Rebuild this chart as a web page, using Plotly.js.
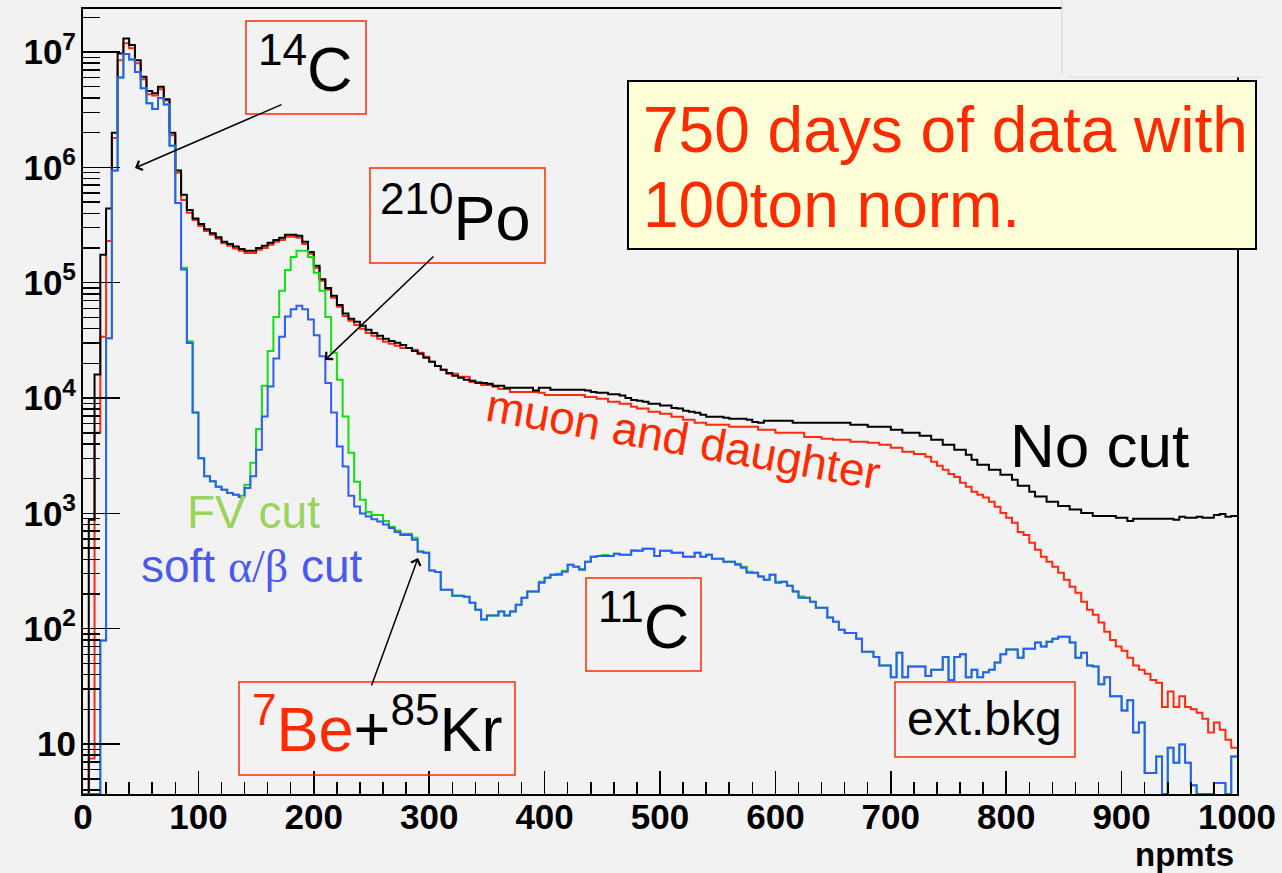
<!DOCTYPE html>
<html>
<head>
<meta charset="utf-8">
<script src="https://cdn.plot.ly/plotly-3.0.1.min.js"></script>
<style>
  html, body { margin: 0; padding: 0; background: #f2f2f2; }
  #chart { width: 1282px; height: 873px; }
</style>
</head>
<body>
<div id="chart"></div>
<script>
// ---- histogram binning (npmts), 200 bins of width 5 ----
const binWidth = 5;
const nBins = 200;

// ---- counts per bin ----
const noCut = [
  0, 880, 16000, 175000, 440000, 2000000, 9700000, 13100000, 11500000, 8500000,
  6100000, 4600000, 4400000, 5000000, 3900000, 2000000, 940000, 580000, 427000, 360000,
  323000, 290000, 268000, 248000, 227000, 217000, 206000, 196000, 189000, 189000,
  200000, 209000, 222000, 235000, 245000, 260000, 260000, 255000, 226000, 185000,
  140000, 107000, 90000, 77000, 64000, 54000, 48600, 45800, 42300, 39000,
  36700, 34600, 32600, 31300, 30100, 28900, 27200, 25600, 24200, 22400,
  20600, 19000, 17600, 16500, 15600, 15000, 14400, 14100, 13500, 13500,
  13300, 12800, 12800, 12300, 12300, 12300, 12300, 12300, 11600, 12300,
  12300, 11800, 11800, 11800, 11800, 11800, 11800, 11600, 11300, 11100,
  11100, 10800, 10800, 10500, 10000, 9600, 9450, 9300, 8900, 8900,
  8600, 8600, 8200, 8100, 7750, 7600, 7450, 7150, 6870, 6870,
  6870, 6740, 6600, 6600, 6600, 6470, 6200, 6100, 6350, 6350,
  6350, 6350, 6350, 6100, 6100, 6100, 6100, 6100, 6100, 6100,
  6100, 6100, 6100, 5860, 5860, 5860, 5630, 5630, 5630, 5630,
  5300, 5300, 5000, 5000, 5000, 4700, 4700, 4350, 4350, 3930,
  3930, 3560, 3560, 3220, 2920, 2640, 2640, 2390, 2390, 2160,
  2160, 1960, 1740, 1740, 1540, 1400, 1400, 1260, 1260, 1160,
  1160, 1080, 1080, 1010, 1010, 950, 950, 950, 950, 915,
  915, 860, 898, 898, 898, 898, 898, 898, 898, 880,
  935, 915, 915, 935, 915, 915, 970, 990, 935, 950
];

const muonDaughterCut = [
  0, 7.5, 5000, 34000, 230000, 1800000, 8500000, 11900000, 10800000, 8000000,
  5800000, 4300000, 4200000, 4750000, 3800000, 1900000, 900000, 520000, 405000, 350000,
  310000, 280000, 260000, 240000, 220000, 209000, 198000, 189000, 181000, 181000,
  193000, 200000, 213000, 226000, 235000, 250000, 250000, 245000, 217000, 178000,
  134000, 104000, 87000, 74000, 62000, 51500, 46700, 43000, 39800, 36700,
  34600, 32600, 30700, 29500, 28400, 27200, 27200, 26200, 24700, 22800,
  20600, 19000, 17600, 16200, 16200, 15300, 15300, 13800, 13800, 13000,
  13000, 12500, 12000, 12000, 11300, 11300, 11300, 11300, 11300, 11100,
  10600, 10600, 10600, 10600, 10600, 10600, 10600, 10200, 10200, 9850,
  9850, 9300, 9300, 8900, 8900, 8400, 8100, 8100, 7600, 7600,
  7300, 7300, 6870, 6870, 6470, 6470, 6100, 6100, 5860, 5860,
  5860, 5860, 5630, 5630, 5630, 5630, 5630, 5300, 5300, 5300,
  5000, 5000, 5000, 5000, 5000, 4600, 4600, 4600, 4430, 4430,
  4350, 4350, 4350, 4170, 4170, 4170, 4100, 4100, 3930, 3930,
  3700, 3700, 3420, 3420, 3280, 3280, 3100, 2800, 2590, 2390,
  2200, 2070, 1840, 1700, 1540, 1450, 1370, 1260, 1140, 1010,
  915, 830, 690, 650, 556, 484, 420, 381, 345, 306,
  266, 231, 205, 171, 146, 132, 113, 94, 80, 70,
  64.5, 56, 48, 44, 40.8, 36, 34, 21, 28.5, 21,
  26, 21, 20, 18.7, 16.6, 12.6, 15.4, 13.3, 10.9, 9.3
];

const fvCut = [
  0, 0, 0, 79, 33000, 940000, 6000000, 9600000, 8600000, 6700000,
  4850000, 3600000, 3200000, 4000000, 3500000, 1540000, 490000, 135000, 31000, 7500,
  3000, 2100, 1900, 1700, 1600, 1500, 1450, 1420, 1770, 2750,
  5400, 12800, 25600, 50500, 85000, 129000, 167000, 189000, 189000, 167000,
  122000, 85000, 50500, 24700, 14400, 6900, 3350, 1880, 1310, 1030,
  970, 970, 860, 765, 710, 665, 665, 615, 470, 455,
  320, 310, 218, 218, 193, 193, 189, 168, 146, 120,
  130, 130, 141, 130, 141, 161, 186, 210, 210, 255,
  277, 294, 300, 318, 358, 345, 330, 381, 420, 428,
  435, 428, 447, 438, 438, 480, 474, 494, 494, 428,
  474, 474, 456, 456, 420, 420, 456, 420, 438, 404,
  404, 381, 381, 365, 345, 312, 306, 283, 266, 294,
  255, 255, 236, 210, 190, 186, 171, 152, 152, 125,
  115, 98, 92, 92, 82, 63, 63, 57, 48, 48,
  38, 62, 38, 47, 47, 47, 39, 44, 44, 57,
  36, 57, 60, 38, 44, 38, 42, 44, 51, 60,
  66, 66, 56, 67, 67, 76, 70, 77, 82, 85,
  85, 76, 56, 62, 48, 47, 33, 38, 26, 26,
  19.5, 24, 12.6, 15.4, 5.6, 5.6, 7.8, 0, 9.3, 6.9,
  9.9, 6.9, 4.4, 0, 0, 0, 4.6, 4.6, 0, 7.8
];

const softAlphaBetaCut = [
  0, 0, 0, 79, 33000, 940000, 6000000, 9600000, 8600000, 6700000,
  4850000, 3600000, 3200000, 4000000, 3500000, 1540000, 490000, 130000, 30000, 7500,
  3000, 2100, 1900, 1700, 1600, 1500, 1450, 1390, 1660, 2100,
  3560, 6900, 12600, 22000, 34000, 51000, 59000, 63000, 59000, 48000,
  35000, 23000, 13500, 7500, 3800, 2550, 1420, 1150, 1000, 940,
  890, 850, 800, 745, 690, 650, 650, 590, 465, 455,
  320, 310, 218, 218, 193, 193, 189, 168, 146, 120,
  130, 130, 141, 130, 141, 161, 186, 210, 210, 250,
  277, 294, 294, 312, 358, 345, 325, 381, 420, 428,
  428, 428, 447, 438, 438, 474, 474, 494, 494, 428,
  474, 474, 456, 456, 420, 420, 456, 420, 438, 404,
  404, 381, 381, 358, 338, 306, 306, 283, 266, 294,
  250, 255, 236, 210, 186, 186, 171, 152, 152, 125,
  115, 98, 92, 92, 82, 63, 63, 57, 48, 48,
  38, 62, 38, 47, 47, 47, 39, 44, 44, 57,
  36, 57, 60, 38, 44, 38, 42, 44, 51, 60,
  66, 66, 56, 67, 67, 76, 70, 77, 82, 85,
  85, 76, 56, 62, 48, 47, 33, 38, 26, 26,
  19.5, 24, 12.6, 15.4, 5.6, 5.6, 7.8, 0, 9.3, 6.9,
  9.9, 6.9, 4.4, 0, 0, 0, 4.6, 4.6, 0, 7.8
];

// ---- axis ticks ----
const xTickVals = [0, 100, 200, 300, 400, 500, 600, 700, 800, 900, 1000];
const yTickVals = [10, 100, 1000, 10000, 100000, 1000000, 10000000];
const yTickText = ['10', '10<sup>2</sup>', '10<sup>3</sup>', '10<sup>4</sup>', '10<sup>5</sup>', '10<sup>6</sup>', '10<sup>7</sup>'];

// ---- layout geometry ----
const W = 1282, H = 873;
const PL = 83, PR = 1237, PT = 9, PB = 794;
const Y_MIN = 3.69, Y_MAX = 2.36e7;
const px2x = p => (p - PL) / (PR - PL);
const px2y = p => (PB - p) / (PB - PT);

const RED = '#ff2a00';
const FONT = 'Liberation Sans, Arial, Helvetica, sans-serif';

const edges = [];
for (let i = 0; i <= nBins; i++) edges.push(i * binWidth);
function stepY(vals) {
  const ys = vals.map(v => (v > 0 ? v : Y_MIN));
  ys.push(ys[ys.length - 1]);
  return ys;
}
function hist(vals, color) {
  return {
    x: edges, y: stepY(vals), type: 'scatter', mode: 'lines',
    line: { shape: 'hv', color: color, width: 2 },
    hoverinfo: 'skip', showlegend: false
  };
}

const minorY = [];
for (let k = 0; k <= 7; k++) {
  for (let m = 2; m <= 9; m++) {
    const v = m * Math.pow(10, k);
    if (v > Y_MIN && v < Y_MAX) minorY.push(v);
  }
}

const traces = [
  hist(muonDaughterCut, '#ff2a10'),
  hist(noCut, '#000000'),
  hist(fvCut, '#10e010'),
  hist(softAlphaBetaCut, '#2f5cff')
];

function box(x0, y0, x1, y1, color, fill, w) {
  return {
    type: 'rect', xref: 'paper', yref: 'paper', layer: 'above',
    x0: px2x(x0), x1: px2x(x1), y0: px2y(y1), y1: px2y(y0),
    line: { color: color, width: w || 1.5 },
    fillcolor: fill || 'rgba(0,0,0,0)'
  };
}
function label(text, cx, cy, size, color, opts) {
  return Object.assign({
    xref: 'paper', yref: 'paper', x: px2x(cx), y: px2y(cy),
    xanchor: 'center', yanchor: 'middle', showarrow: false,
    text: text, font: { family: FONT, size: size, color: color }
  }, opts || {});
}
function arrow(hx, hy, tx, ty) {
  return {
    xref: 'paper', yref: 'paper', x: px2x(hx), y: px2y(hy),
    ax: tx - hx, ay: ty - hy, text: '', showarrow: true,
    arrowhead: 4, arrowsize: 1.3, arrowwidth: 1.5, arrowcolor: '#000'
  };
}

const shapes = [
  // pasted panel at top-right that hides the frame corner
  { type: 'rect', xref: 'paper', yref: 'paper', layer: 'above',
    x0: px2x(1062), x1: px2x(1282), y0: px2y(77), y1: px2y(0),
    line: { width: 0 }, fillcolor: '#f2f2f2' },
  { type: 'line', xref: 'paper', yref: 'paper', layer: 'above',
    x0: px2x(1062), x1: px2x(1062), y0: px2y(74), y1: px2y(0),
    line: { color: '#d4d4d4', width: 1 } },
  { type: 'line', xref: 'paper', yref: 'paper', layer: 'above',
    x0: px2x(1068), x1: px2x(1262), y0: px2y(77), y1: px2y(77),
    line: { color: '#dadada', width: 1 } },
  box(628, 81, 1256, 249, '#000', '#ffffd7', 2),
  box(246, 21, 366, 114, RED),
  box(370, 168, 545, 263, RED),
  box(586, 578, 701, 671, RED),
  box(239, 682, 515, 775, RED),
  box(895, 682, 1075, 757, RED)
];

const annotations = [
  label('750 days of data with', 641, 130, 64, RED, { xanchor: 'left' }),
  label('100ton norm.', 641, 205, 64, RED, { xanchor: 'left' }),
  label('<sup>14</sup>C', 305, 65, 63, '#000'),
  label('<sup>210</sup>Po', 455, 213, 63, '#000'),
  label('<sup>11</sup>C', 643, 621, 63, '#000'),
  label('<span style="color:' + RED + '"><sup>7</sup>Be</span>+<sup>85</sup>Kr', 377, 724, 63, '#000'),
  label('ext.bkg', 984, 718, 48, '#000'),
  label('No cut', 1099, 445, 62, '#000'),
  label('muon and daughter', 683, 439, 46, RED, { textangle: 10 }),
  label('FV cut', 253, 512, 46, '#9bd35f'),
  label('soft <span style="font-family:Liberation Serif, DejaVu Serif, serif">\u03b1/\u03b2</span> cut', 252, 566, 46, '#4a5af0'),
  label('<b>npmts</b>', 1236, 854, 33, '#000', { xanchor: 'right' }),
  arrow(135, 168, 283, 104),
  arrow(325, 360, 435, 255),
  arrow(418, 558, 371, 687)
];

const layout = {
  width: W, height: H,
  margin: { l: PL, r: W - PR, t: PT, b: H - PB, pad: 0 },
  paper_bgcolor: '#f2f2f2', plot_bgcolor: '#f2f2f2',
  showlegend: false,
  xaxis: {
    range: [0, 1000], tickmode: 'array', tickvals: xTickVals,
    ticks: 'inside', ticklen: 23, tickwidth: 1.5, tickcolor: '#000',
    minor: { dtick: 20, tick0: 0, ticks: 'inside', ticklen: 12, tickwidth: 1.5, tickcolor: '#000', showgrid: false },
    showline: true, linecolor: '#000', linewidth: 2, mirror: true,
    showgrid: false, zeroline: false, ticklabelstandoff: -9,
    tickfont: { family: FONT, size: 35, color: '#000', weight: 'bold' }
  },
  yaxis: {
    type: 'log', range: [Math.log10(Y_MIN), Math.log10(Y_MAX)],
    tickmode: 'array', tickvals: yTickVals, ticktext: yTickText,
    ticks: 'inside', ticklen: 37, tickwidth: 1.5, tickcolor: '#000',
    minor: { tickmode: 'array', tickvals: minorY, ticks: 'inside', ticklen: 17, tickwidth: 1.5, tickcolor: '#000', showgrid: false },
    showline: true, linecolor: '#000', linewidth: 2, mirror: true,
    showgrid: false, zeroline: false, ticklabelstandoff: -2,
    tickfont: { family: FONT, size: 35, color: '#000', weight: 'bold' }
  },
  shapes: shapes,
  annotations: annotations
};

Plotly.newPlot('chart', traces, layout, { staticPlot: true, displayModeBar: false });
</script>
</body>
</html>
